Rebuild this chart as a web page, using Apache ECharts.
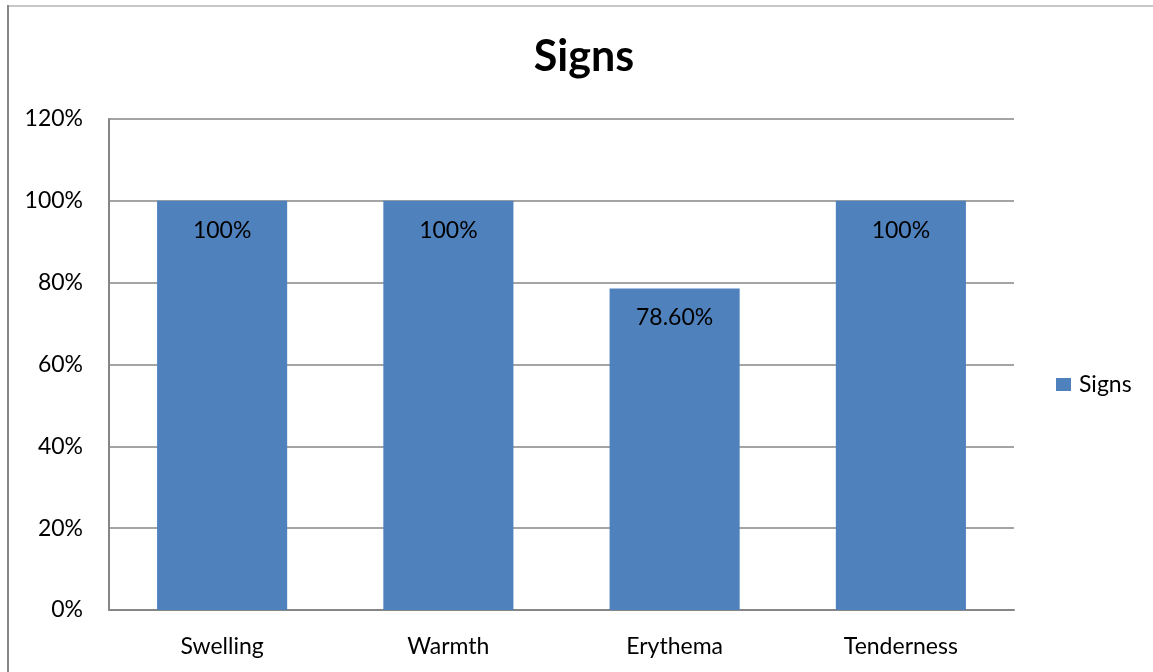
<!DOCTYPE html>
<html>
<head>
<meta charset="utf-8">
<script src="https://cdn.jsdelivr.net/npm/echarts@6/dist/echarts.min.js"></script>
<style>
html,body{margin:0;padding:0;background:#fff;}
#chart{width:1153px;height:672px;}
</style>
</head>
<body>
<div id="chart"></div>
<script>
const categories = ['Swelling', 'Warmth', 'Erythema', 'Tenderness'];
const signsValues = [1.00, 1.00, 0.786, 1.00];
const signsLabels = ['100%', '100%', '78.60%', '100%'];
const yTickLabels = ['0%', '20%', '40%', '60%', '80%', '100%', '120%'];
const titleText = 'Signs';
const seriesName = 'Signs';

const FONT = 'Lato';
const chart = echarts.init(document.getElementById('chart'), null, {renderer: 'canvas'});
chart.setOption({
  animation: false,
  backgroundColor: '#ffffff',
  legend: {
    orient: 'vertical',
    left: 1056, top: 373, padding: 0,
    itemWidth: 15, itemHeight: 13, itemGap: 8,
    icon: 'rect',
    textStyle: {fontFamily: FONT, fontSize: 23, color: '#000', padding: [0,0,0,3]},
    data: [seriesName]
  },
  grid: {left: 109, right: 139, top: 119, bottom: 62, containLabel: false},
  xAxis: {
    type: 'category',
    data: categories,
    axisLine: {show: true, lineStyle: {color: '#868686', width: 2}},
    axisTick: {show: false},
    axisLabel: {fontFamily: FONT, fontSize: 23, color: '#000', margin: 25}
  },
  yAxis: {
    type: 'value',
    min: 0, max: 1.2, interval: 0.2,
    axisLine: {show: true, lineStyle: {color: '#868686', width: 2}},
    axisTick: {show: false},
    splitLine: {show: true, lineStyle: {color: '#868686', width: 1.5}},
    axisLabel: {
      fontFamily: FONT, fontSize: 23, color: '#000', margin: 26,
      formatter: function (v) { return yTickLabels[Math.round(v / 0.2)]; }
    }
  },
  series: [{
    name: seriesName,
    type: 'bar',
    data: signsValues,
    barCategoryGap: '42.5%',
    itemStyle: {color: '#4F81BD'},
    label: {
      show: true, position: 'insideTop', distance: 18,
      fontFamily: FONT, fontSize: 23, color: '#000',
      formatter: function (p) { return signsLabels[p.dataIndex]; }
    }
  }],
  graphic: [
    {type: 'line', shape: {x1: 8, y1: 6, x2: 1153, y2: 6}, style: {stroke: '#c8c8c8', lineWidth: 2}},
    {type: 'line', shape: {x1: 8, y1: 5, x2: 8, y2: 672}, style: {stroke: '#868686', lineWidth: 2}},
    {type: 'text', x: 584, y: 57, style: {text: titleText, fontFamily: FONT, fontWeight: 'bold', fontSize: 43, fill: '#000', textAlign: 'center', textVerticalAlign: 'middle'}}
  ]
});
</script>
</body>
</html>
